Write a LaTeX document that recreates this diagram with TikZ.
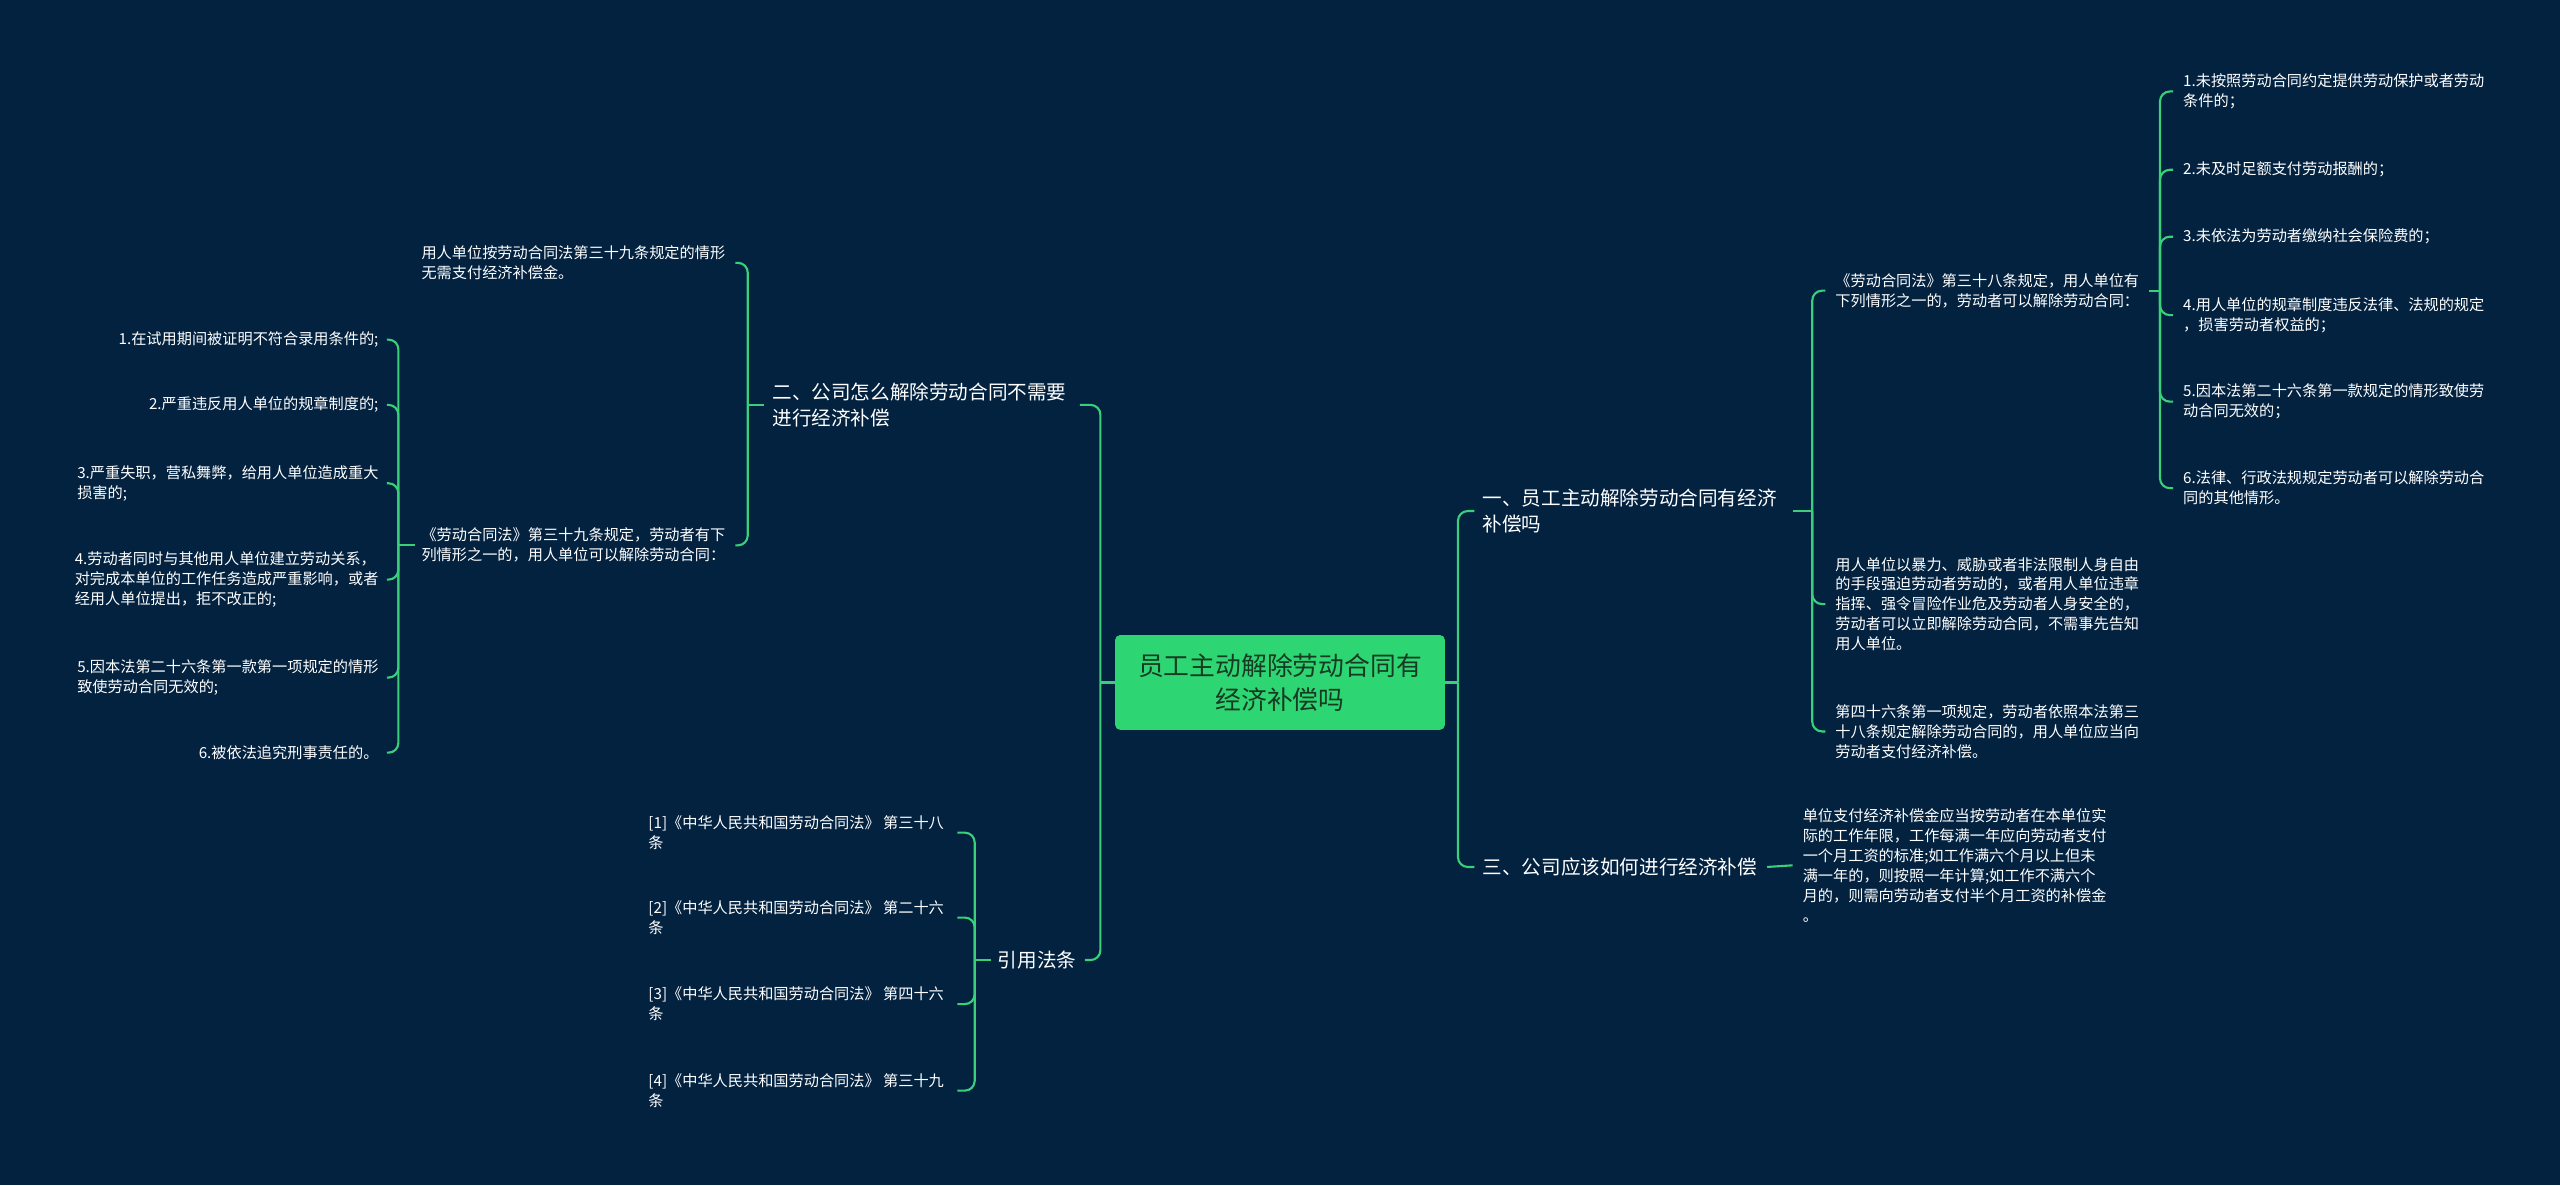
\documentclass[tikz,border=0pt]{standalone}
\usepackage{fontspec}
\setmainfont{Noto Sans CJK SC}
\usepackage{xcolor}
\usepackage{tikz}
\definecolor{bgnavy}{HTML}{022240}
\definecolor{mapgreen}{HTML}{3AD07A}
\definecolor{rootgreen}{HTML}{2ED573}
\definecolor{rootink}{HTML}{173A22}

\begin{document}
\begin{tikzpicture}[x=1pt,y=-1pt,
  root/.style={fill=rootgreen,rounded corners=3,minimum width=202,minimum height=58,inner sep=0,align=center,text=rootink,font=\fontsize{15.8}{21}\selectfont},
  topic/.style={inner sep=0,align=left,text=white,font=\fontsize{12}{15.5}\selectfont},
  leaf/.style={inner sep=0,align=left,text=white,font=\fontsize{9.3}{12.2}\selectfont},
  link/.style={draw=mapgreen,line width=1.3,rounded corners=6}]
  \fill[bgnavy] (0,0) rectangle (1568,726);
  \useasboundingbox (0,0) rectangle (1568,726);

  % centre
  \node[root] (root) at (784,418) {员工主动解除劳动合同有\\经济补偿吗};

  % left half
  \node[topic,anchor=west] (two) at (473,248) {二、公司怎么解除劳动合同不需要\\进行经济补偿};
  \node[leaf,anchor=west] (lawa) at (258,161) {用人单位按劳动合同法第三十九条规定的情形\\无需支付经济补偿金。};
  \node[leaf,anchor=west] (lawb) at (258,334) {《劳动合同法》第三十九条规定，劳动者有下\\列情形之一的，用人单位可以解除劳动合同：};
  \node[leaf,anchor=east] (d1) at (232,208) {1.在试用期间被证明不符合录用条件的;};
  \node[leaf,anchor=east] (d2) at (232,248) {2.严重违反用人单位的规章制度的;};
  \node[leaf,anchor=east] (d3) at (232,296) {3.严重失职，营私舞弊，给用人单位造成重大\\损害的;};
  \node[leaf,anchor=east] (d4) at (232,355) {4.劳动者同时与其他用人单位建立劳动关系，\\对完成本单位的工作任务造成严重影响，或者\\经用人单位提出，拒不改正的;};
  \node[leaf,anchor=east] (d5) at (232,415) {5.因本法第二十六条第一款第一项规定的情形\\致使劳动合同无效的;};
  \node[leaf,anchor=east] (d6) at (232,461) {6.被依法追究刑事责任的。};

  \node[topic,anchor=west] (cite) at (611,588) {引用法条};
  \node[leaf,anchor=west] (c1) at (397,510) {[1]《中华人民共和国劳动合同法》 第三十八\\条};
  \node[leaf,anchor=west] (c2) at (397,562) {[2]《中华人民共和国劳动合同法》 第二十六\\条};
  \node[leaf,anchor=west] (c3) at (397,615) {[3]《中华人民共和国劳动合同法》 第四十六\\条};
  \node[leaf,anchor=west] (c4) at (397,668) {[4]《中华人民共和国劳动合同法》 第三十九\\条};

  % right half
  \node[topic,anchor=west] (one) at (908,313) {一、员工主动解除劳动合同有经济\\补偿吗};
  \node[leaf,anchor=west] (r1) at (1124,178) {《劳动合同法》第三十八条规定，用人单位有\\下列情形之一的，劳动者可以解除劳动合同：};
  \node[leaf,anchor=west] (r2) at (1124,370) {用人单位以暴力、威胁或者非法限制人身自由\\的手段强迫劳动者劳动的，或者用人单位违章\\指挥、强令冒险作业危及劳动者人身安全的，\\劳动者可以立即解除劳动合同，不需事先告知\\用人单位。};
  \node[leaf,anchor=west] (r3) at (1124,448) {第四十六条第一项规定，劳动者依照本法第三\\十八条规定解除劳动合同的，用人单位应当向\\劳动者支付经济补偿。};
  \node[leaf,anchor=west] (s1) at (1337,56) {1.未按照劳动合同约定提供劳动保护或者劳动\\条件的；};
  \node[leaf,anchor=west] (s2) at (1337,104) {2.未及时足额支付劳动报酬的；};
  \node[leaf,anchor=west] (s3) at (1337,145) {3.未依法为劳动者缴纳社会保险费的；};
  \node[leaf,anchor=west] (s4) at (1337,193) {4.用人单位的规章制度违反法律、法规的规定\\，损害劳动者权益的；};
  \node[leaf,anchor=west] (s5) at (1337,246) {5.因本法第二十六条第一款规定的情形致使劳\\动合同无效的；};
  \node[leaf,anchor=west] (s6) at (1337,299) {6.法律、行政法规规定劳动者可以解除劳动合\\同的其他情形。};

  \node[topic,anchor=west] (three) at (908,531) {三、公司应该如何进行经济补偿};
  \node[leaf,anchor=west] (comp) at (1104,530) {单位支付经济补偿金应当按劳动者在本单位实\\际的工作年限，工作每满一年应向劳动者支付\\一个月工资的标准;如工作满六个月以上但未\\满一年的，则按照一年计算;如工作不满六个\\月的，则需向劳动者支付半个月工资的补偿金\\。};

  % branches
  \coordinate (jl) at (674,418);
  \coordinate (jr) at (893,418);
  \draw[link] (root.west) -- (jl);
  \draw[link] (jl) |- ([xshift=8]two.east);
  \draw[link] (jl) |- ([xshift=5]cite.east);
  \draw[link] (root.east) -- (jr);
  \draw[link] (jr) |- ([xshift=-5]one.west);
  \draw[link] (jr) |- ([xshift=-5]three.west);

  \coordinate (j2) at (458,248);
  \draw[link] ([xshift=-5]two.west) -- (j2);
  \draw[link] (j2) |- ([xshift=6]lawa.east);
  \draw[link] (j2) |- ([xshift=6]lawb.east);

  \coordinate (jb) at (244,334);
  \draw[link] ([xshift=-4]lawb.west) -- (jb);
  \foreach \n in {d1,d2,d3,d4,d5,d6}
    \draw[link] (jb) |- ([xshift=5]\n.east);

  \coordinate (jc) at (597,588);
  \draw[link] ([xshift=-4]cite.west) -- (jc);
  \foreach \n in {c1,c2,c3,c4}
    \draw[link] (jc) |- ([xshift=8]\n.east);

  \coordinate (j1) at (1110,313);
  \draw[link] ([xshift=10]one.east) -- (j1);
  \foreach \n in {r1,r2,r3}
    \draw[link] (j1) |- ([xshift=-6]\n.west);

  \coordinate (j3) at (1323,178);
  \draw[link] ([xshift=6]r1.east) -- (j3);
  \foreach \n in {s1,s2,s3,s4,s5,s6}
    \draw[link] (j3) |- ([xshift=-6]\n.west);

  \draw[link] ([xshift=6]three.east) -- ([xshift=-6]comp.west);
\end{tikzpicture}
\end{document}
